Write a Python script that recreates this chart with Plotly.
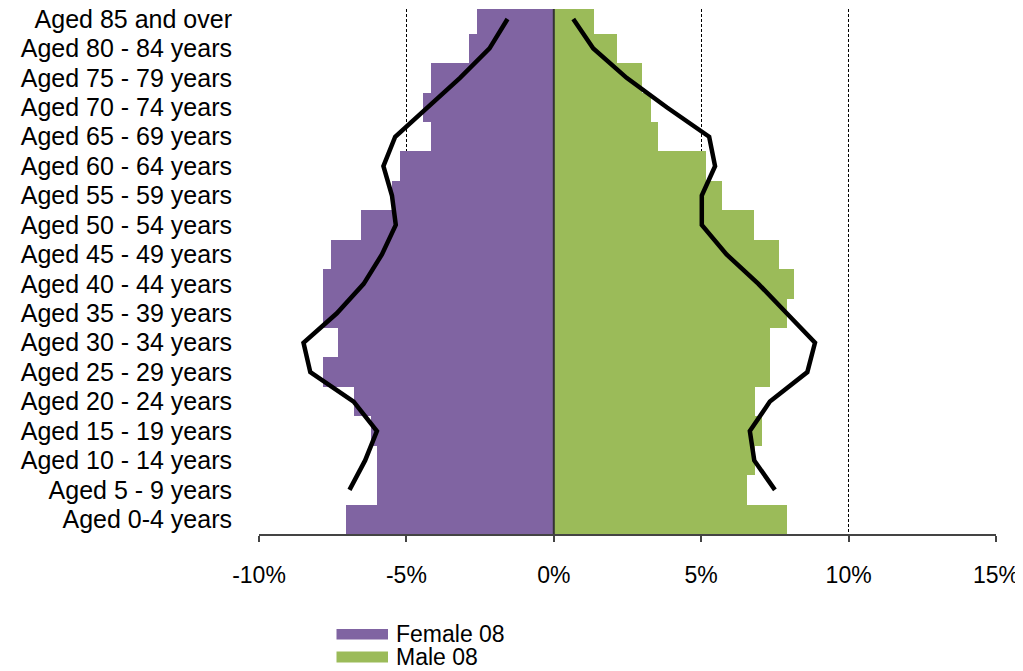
import plotly.graph_objects as go

# Age groups, bottom to top
age_groups = ["Aged 0-4 years", "Aged 5 - 9 years", "Aged 10 - 14 years", "Aged 15 - 19 years",
              "Aged 20 - 24 years", "Aged 25 - 29 years", "Aged 30 - 34 years", "Aged 35 - 39 years",
              "Aged 40 - 44 years", "Aged 45 - 49 years", "Aged 50 - 54 years", "Aged 55 - 59 years",
              "Aged 60 - 64 years", "Aged 65 - 69 years", "Aged 70 - 74 years", "Aged 75 - 79 years",
              "Aged 80 - 84 years", "Aged 85 and over"]

# Bars (percent), bottom to top
female_08 = [-7.04, -6.0, -6.0, -6.2, -6.79, -7.83, -7.32, -7.83, -7.83, -7.56, -6.53, -5.5,
             -5.22, -4.18, -4.44, -4.17, -2.87, -2.61]
male_08 = [7.9, 6.56, 6.82, 7.07, 6.82, 7.33, 7.33, 7.9, 8.16, 7.64, 6.8, 5.72,
           5.15, 3.55, 3.29, 2.98, 2.16, 1.37]

# Comparison lines (percent), from "Aged 5 - 9 years" to top
line_groups = age_groups[1:]
female_line = [-6.93, -6.4, -6.0, -6.79, -8.26, -8.49, -7.36, -6.45, -5.83, -5.36, -5.49,
               -5.78, -5.38, -4.3, -3.18, -2.18, -1.57]
male_line = [7.5, 6.8, 6.65, 7.33, 8.6, 8.86, 7.9, 6.94, 5.86, 5.02, 5.02,
             5.47, 5.27, 3.83, 2.47, 1.34, 0.66]

x_ticks = [-10, -5, 0, 5, 10, 15]
x_tick_text = ["-10%", "-5%", "0%", "5%", "10%", "15%"]

PURPLE = "#8064A2"
GREEN = "#9BBB59"
FONT = "Liberation Sans"
Y_TICK_SIZE = 25
X_TICK_SIZE = 23
LEGEND_SIZE = 23

fig = go.Figure()
fig.add_trace(go.Bar(y=age_groups, x=female_08, orientation="h", marker=dict(color=PURPLE, line=dict(width=0)),
                     name="Female 08", showlegend=False))
fig.add_trace(go.Bar(y=age_groups, x=male_08, orientation="h", marker=dict(color=GREEN, line=dict(width=0)),
                     name="Male 08", showlegend=False))
fig.add_trace(go.Scatter(y=line_groups, x=female_line, mode="lines", line=dict(color="black", width=4.5),
                         showlegend=False, hoverinfo="skip"))
fig.add_trace(go.Scatter(y=line_groups, x=male_line, mode="lines", line=dict(color="black", width=4.5),
                         showlegend=False, hoverinfo="skip"))

# zero axis line drawn above bars
fig.add_shape(type="line", xref="x", yref="paper", x0=0, x1=0, y0=0, y1=1,
              line=dict(color="#333333", width=2), layer="above")

# manual legend (positions relative to the plot area)
def px_x(p):
    return (p - 259) / 737.0

def px_y(p):
    return (534 - p) / 525.0

legend_items = [("Female 08", PURPLE, 629, 639.5, 634), ("Male 08", GREEN, 651.5, 662.5, 657)]
for label, col, top, bot, mid in legend_items:
    fig.add_shape(type="rect", xref="paper", yref="paper", x0=px_x(336.5), x1=px_x(388),
                  y0=px_y(bot), y1=px_y(top), fillcolor=col, line=dict(width=0))
    fig.add_annotation(xref="paper", yref="paper", x=px_x(394), y=px_y(mid), text=label,
                       showarrow=False, xanchor="left", yanchor="middle",
                       font=dict(family=FONT, size=LEGEND_SIZE, color="black"))

# page body has an 8px margin, so offset the figure margins accordingly
fig.update_layout(
    width=1023, height=671,
    margin=dict(l=251, r=35, t=1, b=145, autoexpand=False),
    paper_bgcolor="white", plot_bgcolor="white",
    barmode="overlay", bargap=0,
    font=dict(family=FONT, size=Y_TICK_SIZE, color="black"),
    showlegend=False,
)
fig.update_xaxes(range=[-10, 15], tickvals=x_ticks, ticktext=x_tick_text, automargin=False,
                 showgrid=True, gridcolor="black", gridwidth=1, griddash="3px,2px",
                 zeroline=False, showline=True, linecolor="#444444", linewidth=1.5,
                 ticks="outside", ticklen=6, tickcolor="#444444", tickwidth=1.5,
                 ticklabelstandoff=14, tickfont=dict(family=FONT, size=X_TICK_SIZE, color="black"))
fig.update_yaxes(categoryorder="array", categoryarray=age_groups, range=[-0.5, 17.34],
                 tickmode="array", tickvals=age_groups, automargin=False,
                 showgrid=False, zeroline=False, showline=False, ticks="",
                 ticklabelstandoff=26, tickfont=dict(family=FONT, size=Y_TICK_SIZE, color="black"))

fig.write_html("out.html")
